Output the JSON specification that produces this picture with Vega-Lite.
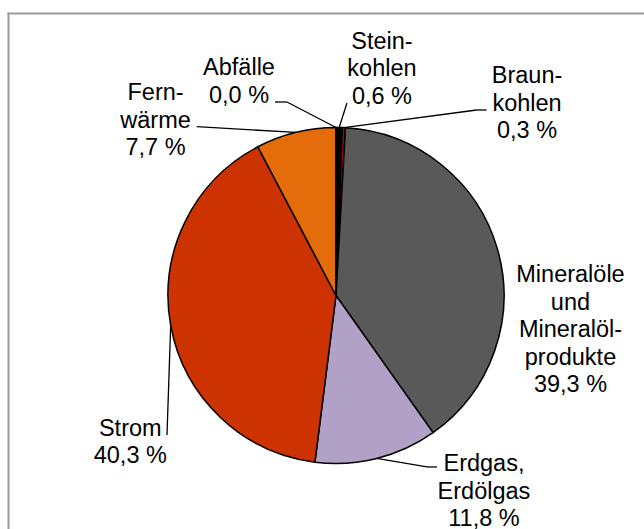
{
  "$schema": "https://vega.github.io/schema/vega-lite/v6.json",
  "width": 636,
  "height": 516,
  "autosize": {"type": "none"},
  "padding": {"left": 8, "top": 13, "right": 0, "bottom": 0},
  "background": "white",
  "config": {
    "view": {"stroke": null},
    "axis": {"domain": true, "domainColor": "#9a9a9a", "domainWidth": 2, "domainCap": "square", "ticks": false, "labels": false, "grid": false},
    "text": {"font": "Liberation Sans", "fontSize": 23.5, "lineHeight": 27.5, "align": "center", "baseline": "middle", "color": "#000000", "lineBreak": "\n"},
    "rule": {"color": "#000000", "strokeWidth": 1.3}
  },
  "data": {
    "values": [
      {"cat": "Steinkohlen", "label": "Stein-\nkohlen\n0,6 %", "value": 0.6, "order": 1},
      {"cat": "Braunkohlen", "label": "Braun-\nkohlen\n0,3 %", "value": 0.3, "order": 2},
      {"cat": "Mineralöle", "label": "Mineralöle\nund\nMineralöl-\nprodukte\n39,3 %", "value": 39.3, "order": 3},
      {"cat": "Erdgas", "label": "Erdgas,\nErdölgas\n11,8 %", "value": 11.8, "order": 4},
      {"cat": "Strom", "label": "Strom\n40,3 %", "value": 40.3, "order": 5},
      {"cat": "Fernwärme", "label": "Fern-\nwärme\n7,7 %", "value": 7.7, "order": 6},
      {"cat": "Abfälle", "label": "Abfälle\n0,0 %", "value": 0.0, "order": 7}
    ]
  },
  "transform": [
    {"joinaggregate": [{"op": "sum", "field": "value", "as": "total"}]},
    {"window": [{"op": "sum", "field": "value", "as": "cum"}], "sort": [{"field": "order", "order": "ascending"}], "frame": [null, 0]},
    {"calculate": "2*PI*(datum.cum - datum.value/2)/datum.total", "as": "mid"},
    {"calculate": "168*sin(datum.mid)", "as": "ex"},
    {"calculate": "168*cos(datum.mid)", "as": "ey"}
  ],
  "layer": [
    {
      "mark": {"type": "arc", "outerRadius": 168, "stroke": "#000000", "strokeWidth": 1.5, "x": {"expr": "scale('x', 0)"}, "y": {"expr": "scale('y', 0)"}},
      "encoding": {
        "theta": {"field": "value", "type": "quantitative", "stack": true},
        "order": {"field": "order", "type": "quantitative"},
        "color": {"field": "cat", "type": "nominal", "legend": null,
          "scale": {"domain": ["Steinkohlen", "Braunkohlen", "Mineralöle", "Erdgas", "Strom", "Fernwärme", "Abfälle"],
                    "range": ["#000000", "#a50021", "#595959", "#b2a1c7", "#cc3300", "#e46c0a", "#ffffff"]}}
      }
    },
    {
      "transform": [{"filter": "datum.order === 1"}],
      "encoding": {
        "x": {"field": "ex", "type": "quantitative", "title": null, "scale": {"domain": [-328, 308], "nice": false, "zero": false}, "axis": {"orient": "top"}},
        "y": {"field": "ey", "type": "quantitative", "title": null, "scale": {"domain": [-233.5, 282.5], "nice": false, "zero": false}, "axis": {"orient": "left"}}
      },
      "layer": [
        {"mark": {"type": "rule", "x2Offset": 7.8, "y2Offset": -24.5}, "encoding": {"x2": {"field": "ex"}, "y2": {"field": "ey"}}},
        {"mark": {"type": "text", "dx": 42.8, "dy": -86}, "encoding": {"text": {"field": "label"}}}
      ]
    },
    {
      "transform": [{"filter": "datum.order === 2"}],
      "encoding": {
        "x": {"field": "ex", "type": "quantitative", "title": null, "scale": {"domain": [-328, 308], "nice": false, "zero": false}, "axis": {"orient": "top"}},
        "y": {"field": "ey", "type": "quantitative", "title": null, "scale": {"domain": [-233.5, 282.5], "nice": false, "zero": false}, "axis": {"orient": "left"}}
      },
      "layer": [
        {"mark": {"type": "rule", "x2Offset": 132.8, "y2Offset": -17.7}, "encoding": {"x2": {"field": "ex"}, "y2": {"field": "ey"}}},
        {"mark": {"type": "rule", "xOffset": 132.8, "yOffset": -17.7, "x2Offset": 142.8, "y2Offset": -17.7}, "encoding": {"x2": {"field": "ex"}, "y2": {"field": "ey"}}},
        {"mark": {"type": "text", "dx": 183.1, "dy": -51.2}, "encoding": {"text": {"field": "label"}}}
      ]
    },
    {
      "transform": [{"filter": "datum.order === 3"}],
      "encoding": {
        "x": {"field": "ex", "type": "quantitative", "title": null, "scale": {"domain": [-328, 308], "nice": false, "zero": false}, "axis": {"orient": "top"}},
        "y": {"field": "ey", "type": "quantitative", "title": null, "scale": {"domain": [-233.5, 282.5], "nice": false, "zero": false}, "axis": {"orient": "left"}}
      },
      "layer": [
        {"mark": {"type": "text", "dx": 73, "dy": 25.9}, "encoding": {"text": {"field": "label"}}}
      ]
    },
    {
      "transform": [{"filter": "datum.order === 4"}],
      "encoding": {
        "x": {"field": "ex", "type": "quantitative", "title": null, "scale": {"domain": [-328, 308], "nice": false, "zero": false}, "axis": {"orient": "top"}},
        "y": {"field": "ey", "type": "quantitative", "title": null, "scale": {"domain": [-233.5, 282.5], "nice": false, "zero": false}, "axis": {"orient": "left"}}
      },
      "layer": [
        {"mark": {"type": "rule", "x2Offset": 50.2, "y2Offset": 8.5}, "encoding": {"x2": {"field": "ex"}, "y2": {"field": "ey"}}},
        {"mark": {"type": "rule", "xOffset": 50.2, "yOffset": 8.5, "x2Offset": 60.2, "y2Offset": 8.5}, "encoding": {"x2": {"field": "ex"}, "y2": {"field": "ey"}}},
        {"mark": {"type": "text", "dx": 107.2, "dy": 6}, "encoding": {"text": {"field": "label"}}}
      ]
    },
    {
      "transform": [{"filter": "datum.order === 5"}],
      "encoding": {
        "x": {"field": "ex", "type": "quantitative", "title": null, "scale": {"domain": [-328, 308], "nice": false, "zero": false}, "axis": {"orient": "top"}},
        "y": {"field": "ey", "type": "quantitative", "title": null, "scale": {"domain": [-233.5, 282.5], "nice": false, "zero": false}, "axis": {"orient": "left"}}
      },
      "layer": [
        {"mark": {"type": "rule", "x2Offset": -3.7, "y2Offset": 109.6}, "encoding": {"x2": {"field": "ex"}, "y2": {"field": "ey"}}},
        {"mark": {"type": "text", "dx": -40.4, "dy": 103.5}, "encoding": {"text": {"field": "label"}}}
      ]
    },
    {
      "transform": [{"filter": "datum.order === 6"}],
      "encoding": {
        "x": {"field": "ex", "type": "quantitative", "title": null, "scale": {"domain": [-328, 308], "nice": false, "zero": false}, "axis": {"orient": "top"}},
        "y": {"field": "ey", "type": "quantitative", "title": null, "scale": {"domain": [-233.5, 282.5], "nice": false, "zero": false}, "axis": {"orient": "left"}}
      },
      "layer": [
        {"mark": {"type": "rule", "x2Offset": -99, "y2Offset": -5.7}, "encoding": {"x2": {"field": "ex"}, "y2": {"field": "ey"}}},
        {"mark": {"type": "text", "dx": -140.2, "dy": -38.9}, "encoding": {"text": {"field": "label"}}}
      ]
    },
    {
      "transform": [{"filter": "datum.order === 7"}],
      "encoding": {
        "x": {"field": "ex", "type": "quantitative", "title": null, "scale": {"domain": [-328, 308], "nice": false, "zero": false}, "axis": {"orient": "top"}},
        "y": {"field": "ey", "type": "quantitative", "title": null, "scale": {"domain": [-233.5, 282.5], "nice": false, "zero": false}, "axis": {"orient": "left"}}
      },
      "layer": [
        {"mark": {"type": "rule", "x2Offset": -49, "y2Offset": -25.5}, "encoding": {"x2": {"field": "ex"}, "y2": {"field": "ey"}}},
        {"mark": {"type": "rule", "xOffset": -49, "yOffset": -25.5, "x2Offset": -61, "y2Offset": -25.5}, "encoding": {"x2": {"field": "ex"}, "y2": {"field": "ey"}}},
        {"mark": {"type": "text", "dx": -97, "dy": -59.5}, "encoding": {"text": {"field": "label"}}}
      ]
    }
  ]
}
